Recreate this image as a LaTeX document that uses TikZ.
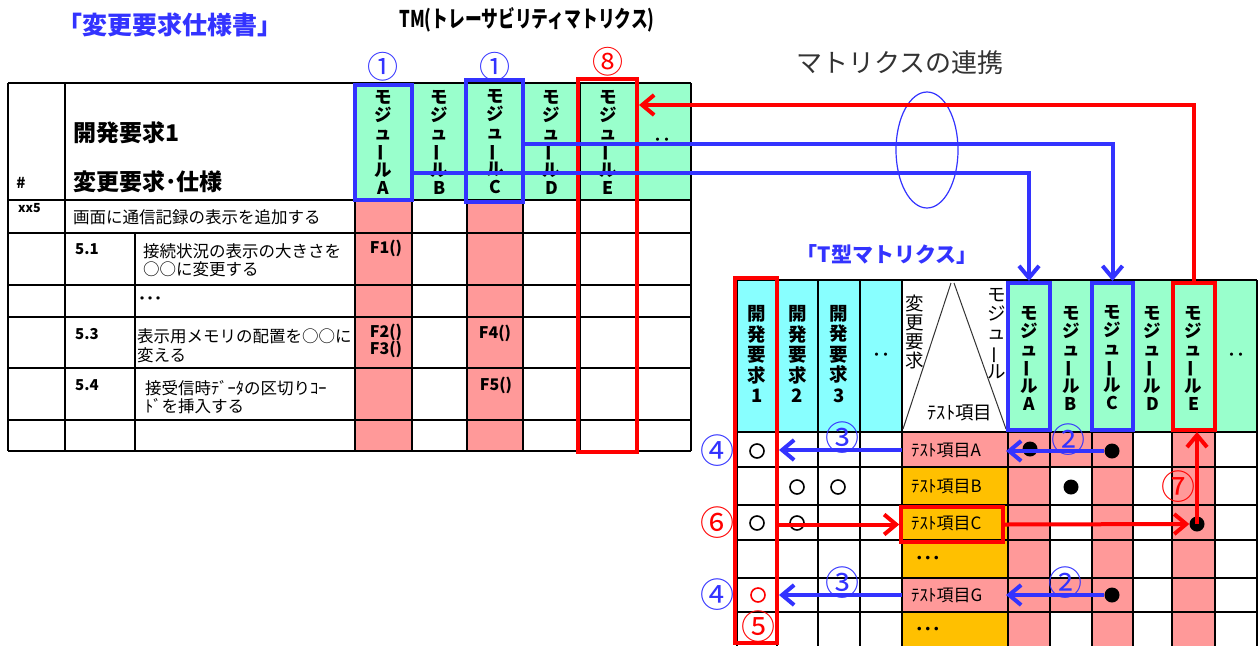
\documentclass[tikz,border=0pt]{standalone}
\usepackage{fontspec}
\setmainfont{Noto Sans CJK JP}
\usetikzlibrary{arrows.meta,shapes.geometric}
\definecolor{mint}{HTML}{99FFCC}
\definecolor{pnk}{HTML}{FF9999}
\definecolor{cyn}{HTML}{88FFFF}
\definecolor{org}{HTML}{FFC000}
\definecolor{bl}{HTML}{3333FF}
\definecolor{rd}{HTML}{FF0000}
\definecolor{dg}{HTML}{333333}
\newcommand\myfs[2]{\fontsize{#1}{#2}\selectfont}
\newcommand\vbar{\rotatebox[origin=c]{90}{ー}}
\tikzset{
  grid/.style={line width=1.2pt, black},
  txt/.style={inner sep=0pt},
  bbox/.style={draw=bl, line width=4pt, inner sep=0pt},
  rbox/.style={draw=rd, line width=4pt, inner sep=0pt},
  vmod/.style={align=center, inner sep=0pt, font=\myfs{17.5}{18}\bfseries},
  vreq/.style={align=center, inner sep=0pt, font=\myfs{18.5}{20.5}\bfseries},
  vthin/.style={align=center, inner sep=0pt, font=\myfs{18.5}{19}},
  item/.style={minimum width=106pt, minimum height=34pt, inner sep=0pt, text width=88pt, align=left, font=\myfs{17}{17}},
  barrow/.style={bl, line width=4pt, -{Straight Barb[length=12pt,width=20pt]}},
  rarrow/.style={rd, line width=4pt, -{Straight Barb[length=12pt,width=20pt]}},
  dot/.style={circle, fill=black, inner sep=0pt, minimum size=15pt},
  ocirc/.style={circle, draw=black, line width=1.6pt, inner sep=0pt, minimum size=14pt},
  cnum/.style={inner sep=0pt, font=\myfs{31}{31}},
  cnumt/.style={inner sep=0pt, font=\myfs{34}{34}},
}
\begin{document}
\begin{tikzpicture}[x=1pt,y=-1pt]
\useasboundingbox (0,0) rectangle (1260,646);
\fill[white] (0,0) rectangle (1260,646);

% ---------- titles
\node[txt, font=\myfs{25}{25}\bfseries, text=bl] (t1) at (170,25) {「変更要求仕様書」};
\node[txt, font=\myfs{23}{23}\bfseries] (t2) at (527,20) {\scalebox{0.73}[1]{TM(トレーサビリティマトリクス)}};
\node[txt, font=\myfs{26}{26}, text=dg] (t3) at (900,63) {マトリクスの連携};
\node[txt, font=\myfs{21}{21}\bfseries, text=bl] (t4) at (887,255) {「T型マトリクス」};

% ---------- left table: fills and grid
\fill[mint] (355,83) rectangle (691,200);
\fill[pnk] (355,200) rectangle (412,451);
\fill[pnk] (467,200) rectangle (523,451);
\foreach \y in {83,200,233,285,317,368,420,451} \draw[grid] (8,\y) -- (691,\y);
\foreach \x in {8,65,355,412,467,523,580,636,691} \draw[grid] (\x,83) -- (\x,451);
\draw[grid] (135,233) -- (135,451);

% left table texts
\node[txt, font=\myfs{15}{15}\bfseries] (hh) at (21,183) {\#};
\node[txt, anchor=west, font=\myfs{23}{23}\bfseries] (h1) at (73,133) {開発要求1};
\node[txt, anchor=west, font=\myfs{23}{23}\bfseries] (h2) at (73,182) {変更要求･仕様};
\node[txt, anchor=west, font=\myfs{12.5}{12}\bfseries] (r0) at (18,208) {xx5};
\node[txt, anchor=west, font=\myfs{16.5}{16}] (r0t) at (73,217) {画面に通信記録の表示を追加する};
\node[txt, anchor=west, font=\myfs{15}{15}\bfseries] (r1) at (75,249) {5.1};
\node[txt, anchor=west, font=\myfs{16.5}{16}] (r1a) at (143,251) {接続状況の表示の大きさを};
\node[txt, anchor=west, font=\myfs{16.5}{16}] (r1b) at (143,269) {○○に変更する};
\node[txt, anchor=west, font=\myfs{16}{16}\bfseries] (r2) at (138,301) {･･･};
\node[txt, anchor=west, font=\myfs{15}{15}\bfseries] (r3) at (75,334) {5.3};
\node[txt, anchor=west, font=\myfs{16.5}{16}] (r3a) at (137,336) {表示用メモリの配置を○○に};
\node[txt, anchor=west, font=\myfs{16.5}{16}] (r3b) at (137,355) {変える};
\node[txt, anchor=west, font=\myfs{15}{15}\bfseries] (r4) at (75,385) {5.4};
\node[txt, anchor=west, font=\myfs{16.5}{16}] (r4a) at (145,388) {接受信時ﾃﾞｰﾀの区切りｺｰ};
\node[txt, anchor=west, font=\myfs{16.5}{16}] (r4b) at (145,406) {ﾄﾞを挿入する};
\node[txt, font=\myfs{16}{16}\bfseries] (f1) at (386,248) {F1()};
\node[txt, align=center, font=\myfs{16}{15}\bfseries] (f23) at (386,341) {F2()\\F3()};
\node[txt, font=\myfs{16}{16}\bfseries] (f4) at (495,333) {F4()};
\node[txt, font=\myfs{16}{16}\bfseries] (f5) at (496,385) {F5()};

% left module headers
\node[vmod] (mA) at (383.5,142) {モ\\ジ\\ュ\\\vbar\\ル\\A};
\node[vmod] (mB) at (439.5,142) {モ\\ジ\\ュ\\\vbar\\ル\\B};
\node[vmod] (mC) at (495,142) {モ\\ジ\\ュ\\\vbar\\ル\\C};
\node[vmod] (mD) at (551.5,142) {モ\\ジ\\ュ\\\vbar\\ル\\D};
\node[vmod] (mE) at (608,142) {モ\\ジ\\ュ\\\vbar\\ル\\E};
\node[txt, font=\myfs{18}{18}\bfseries] (mX) at (662,142) {‥};

% ---------- T matrix: fills and grid
\fill[cyn] (737,280) rectangle (902,432);
\fill[mint] (1008,280) rectangle (1257,432);
\fill[pnk] (902,432) rectangle (1008,467);
\fill[org] (902,467) rectangle (1008,578);
\fill[pnk] (902,578) rectangle (1008,612);
\fill[org] (902,612) rectangle (1008,646);
\fill[pnk] (1008,432) rectangle (1050,646);
\fill[pnk] (1092,432) rectangle (1133,646);
\fill[pnk] (1172,432) rectangle (1215,646);
\fill[pnk] (1050,432) rectangle (1092,467);
\fill[pnk] (1050,578) rectangle (1092,612);
\foreach \y in {280,432,467,505,540,578,612} \draw[grid] (737,\y) -- (1257,\y);
\foreach \x in {737,777,818,860,902,1008,1050,1092,1133,1172,1215,1257} \draw[grid] (\x,280) -- (\x,646);
\draw[line width=1pt, black!80] (903,429) -- (951,283);
\draw[line width=1pt, black!80] (954,283) -- (1006,429);

% T header texts
\node[vreq] (q1) at (757,354) {開\\発\\要\\求\\1};
\node[vreq] (q2) at (797.5,354) {開\\発\\要\\求\\2};
\node[vreq] (q3) at (839,354) {開\\発\\要\\求\\3};
\node[txt, font=\myfs{18}{18}\bfseries] (qX) at (881,357) {‥};
\node[vthin] (hv) at (915,332) {変\\更\\要\\求};
\node[vthin] (hm) at (997,334) {モ\\ジ\\ュ\\\vbar\\ル};
\node[txt, font=\myfs{18.5}{18}] (ht) at (960,413) {ﾃｽﾄ項目};
\node[vmod] (nA) at (1029,358) {モ\\ジ\\ュ\\\vbar\\ル\\A};
\node[vmod] (nB) at (1071,358) {モ\\ジ\\ュ\\\vbar\\ル\\B};
\node[vmod] (nC) at (1112.5,358) {モ\\ジ\\ュ\\\vbar\\ル\\C};
\node[vmod] (nD) at (1152.5,358) {モ\\ジ\\ュ\\\vbar\\ル\\D};
\node[vmod] (nE) at (1193.5,358) {モ\\ジ\\ュ\\\vbar\\ル\\E};
\node[txt, font=\myfs{18}{18}\bfseries] (nX) at (1236,357) {‥};

% T body texts
\node[item] (iA) at (955,450) {ﾃｽﾄ項目A};
\node[item] (iB) at (955,486) {ﾃｽﾄ項目B};
\node[item] (iC) at (955,523) {ﾃｽﾄ項目C};
\node[item, font=\myfs{17}{17}\bfseries] (iD) at (959,560) {･･･};
\node[item] (iG) at (955,595) {ﾃｽﾄ項目G};
\node[item, font=\myfs{17}{17}\bfseries] (iH) at (959,631) {･･･};

% marks
\node[ocirc] (oA1) at (757,451) {};
\node[ocirc] (oB2) at (797,487) {};
\node[ocirc] (oB3) at (838,487) {};
\node[ocirc] (oC1) at (757,523) {};
\node[ocirc] (oC2) at (797,523) {};
\node[ocirc, draw=rd] (oG1) at (758,595) {};
\node[dot] (dA1) at (1030,449) {};
\node[dot] (dA3) at (1112,451) {};
\node[dot] (dB2) at (1071,487) {};
\node[dot] (dC5) at (1197,524) {};
\node[dot] (dG3) at (1112,595) {};

% ---------- boxes
\node[bbox, minimum width=57pt, minimum height=115pt] (lA) at (383.5,142.5) {};
\node[bbox, minimum width=57pt, minimum height=122pt] (lC) at (494.5,141) {};
\node[rbox, minimum width=59pt, minimum height=373pt] (lE) at (607.5,265.5) {};
\node[bbox, minimum width=42pt, minimum height=147pt] (tA) at (1029,356.5) {};
\node[bbox, minimum width=41pt, minimum height=147pt] (tC) at (1112.5,356.5) {};
\node[rbox, minimum width=42pt, minimum height=147pt] (tE) at (1193.5,356.5) {};
\node[rbox, minimum width=42pt, minimum height=365pt] (tR1) at (756,460.5) {};
\node[rbox, line width=3.5pt, minimum width=102pt, minimum height=35pt] (iCbox) at (952,524.5) {};

% ---------- matrix link
\node[draw=bl, line width=1.2pt, ellipse, inner sep=0pt, minimum width=62pt, minimum height=116pt] (ell) at (927,150) {};
\coordinate (yR) at (0,105);
\coordinate (yB1) at (0,144);
\coordinate (yB2) at (0,173);
\draw[rarrow] (tE.north) |- (lE.east |- yR);
\draw[barrow] (lC.east |- yB1) -| (tC.north);
\draw[barrow] (lA.east |- yB2) -| (tA.north);

% ---------- T arrows
\draw[barrow] (iA.west) -- (tR1.east |- iA.west);
\draw[barrow] (dA3.west) -- (tA.west |- dA3.west);
\draw[rarrow] (tR1.east |- iCbox.west) -- (iCbox.west);
\draw[rarrow] (iCbox.east) -- (dC5.west);
\draw[rarrow] (dC5.center) -- (dC5 |- tE.south);
\draw[barrow] (iG.west) -- (tR1.east |- iG.west);
\draw[barrow] (dG3.west) -- (tA.west |- dG3.west);

% ---------- circled labels
\node[cnum, text=bl] (n1a) at (383,67) {①};
\node[cnum, text=bl] (n1c) at (495,67) {①};
\node[cnum, text=rd] (n8) at (608,62) {⑧};
\node[cnumt, text=bl] (n4a) at (717,451) {④};
\node[cnumt, text=rd] (n6) at (717,523) {⑥};
\node[cnumt, text=bl] (n4b) at (717,595) {④};
\node[cnumt, text=rd] (n5) at (758,627) {⑤};
\node[cnumt, text=bl] (n3a) at (842,438) {③};
\node[cnumt, text=bl] (n3b) at (842,583) {③};
\node[cnumt, text=bl] (n2a) at (1068,440) {②};
\node[cnumt, text=bl] (n2b) at (1065,583) {②};
\node[cnumt, text=rd] (n7) at (1178,487) {⑦};
\end{tikzpicture}
\end{document}
